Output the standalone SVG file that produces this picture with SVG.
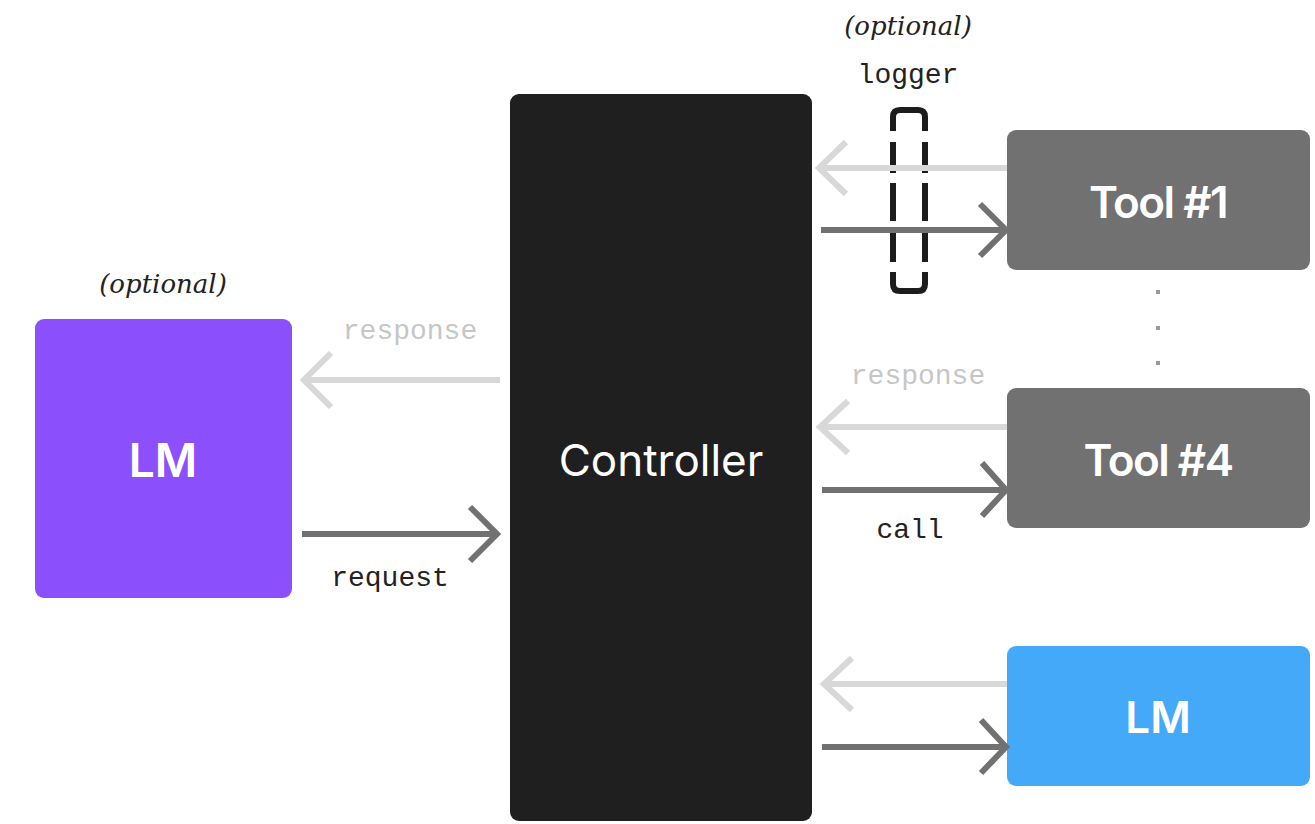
<svg xmlns="http://www.w3.org/2000/svg" width="1315" height="824" viewBox="0 0 1315 824">
  <style>
    .box-label { font-family: Inter, "Liberation Sans", sans-serif; fill: #ffffff; text-anchor: middle; }
    .mono { font-family: "Liberation Mono", "DejaVu Sans Mono", monospace; font-size: 28px; text-anchor: middle; }
    .dark { fill: #222222; }
    .faint { fill: #c6c6c6; }
    .note { font-family: "DejaVu Serif", "Liberation Serif", serif; font-style: italic; font-size: 26px; fill: #222222; text-anchor: middle; }
    .back { stroke: #d8d8d8; stroke-width: 6; fill: none; }
    .fwd { stroke: #717171; stroke-width: 6; fill: none; }
    .tool { fill: #717171; }
    .dash { stroke: #1c1c1c; stroke-width: 6; fill: none; }
  </style>

  <!-- Controller -->
  <g id="controller">
    <rect x="510" y="94" width="302" height="727" rx="9" fill="#1f1f1f"/>
    <text class="box-label" x="661" y="476" font-size="44">Controller</text>
  </g>

  <!-- Left language model -->
  <g id="lm-left">
    <text class="note" x="163" y="293">(optional)</text>
    <rect x="35" y="319" width="257" height="279" rx="9" fill="#8b50fb"/>
    <text class="box-label" x="163" y="477" font-size="46" font-weight="600">LM</text>
  </g>

  <!-- Logger: dashed capsule across the Tool #1 lines -->
  <g id="logger">
    <text class="note" x="908" y="35">(optional)</text>
    <text class="mono dark" x="908" y="83">logger</text>
    <path class="dash" d="M893 131 V117 Q893 110 900 110 H918 Q925 110 925 117 V131"/>
    <path class="dash" d="M893 142 V173 M893 183 V221 M893 231 V262 M925 142 V173 M925 183 V221 M925 231 V262"/>
    <path class="dash" d="M893 272 V284 Q893 291 900 291 H918 Q925 291 925 284 V272"/>
  </g>

  <!-- Tools -->
  <g id="tool-1">
    <rect class="tool" x="1007" y="130" width="303" height="140" rx="9"/>
    <text class="box-label" x="1158" y="218" font-size="44" font-weight="600" letter-spacing="-1.5">Tool #1</text>
  </g>

  <g id="ellipsis">
    <rect x="1156" y="290" width="4" height="4" fill="#9a9a9a"/>
    <rect x="1156" y="326" width="4" height="4" fill="#9a9a9a"/>
    <rect x="1156" y="361" width="4" height="4" fill="#9a9a9a"/>
  </g>

  <g id="tool-4">
    <rect class="tool" x="1007" y="388" width="303" height="140" rx="9"/>
    <text class="box-label" x="1158" y="476" font-size="44" font-weight="600" letter-spacing="-1.5">Tool #4</text>
  </g>

  <!-- Right language model -->
  <g id="lm-right">
    <rect x="1007" y="646" width="303" height="140" rx="9" fill="#45a9fa"/>
    <text class="box-label" x="1158" y="733" font-size="44" font-weight="600">LM</text>
  </g>

  <!-- Connectors -->
  <g id="connectors">
    <!-- Controller <-> left LM -->
    <path class="back" d="M500 380 H304 M331 353 L304 380 L331 407"/>
    <text class="mono faint" x="410" y="339">response</text>
    <path class="fwd" d="M302 534 H496 M470 507 L497 534 L470 561"/>
    <text class="mono dark" x="390" y="586">request</text>

    <!-- Controller <-> Tool #1 -->
    <path class="back" d="M1007 168 H819 M846 142 L819 168 L846 194"/>
    <path class="fwd" d="M821 230 H1005 M980 204 L1006 230 L980 256"/>

    <!-- Controller <-> Tool #4 -->
    <path class="back" d="M1007 427 H820 M848 401 L820 427 L848 453"/>
    <text class="mono faint" x="918" y="384">response</text>
    <path class="fwd" d="M822 490 H1005 M982 463 L1006 490 L982 516"/>
    <text class="mono dark" x="910" y="538">call</text>

    <!-- Controller <-> right LM -->
    <path class="back" d="M1007 684 H824 M852 658 L824 684 L852 710"/>
    <path class="fwd" d="M822 747 H1005 M981 720 L1006 747 L981 773"/>
  </g>
</svg>
